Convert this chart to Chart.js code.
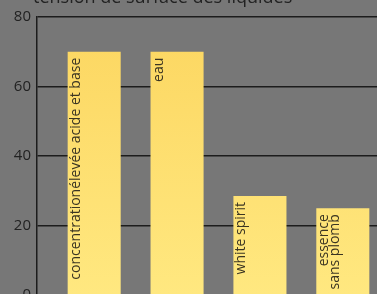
<!DOCTYPE html>
<html>
<head>
<meta charset="utf-8">
<script src="https://cdn.jsdelivr.net/npm/chart.js@4/dist/chart.umd.min.js"></script>
<style>
  html, body { margin: 0; padding: 0; background: #777777; overflow: hidden; }
  #wrap { position: absolute; left: 0; top: -20px; width: 400px; height: 330px; }
</style>
</head>
<body>
<div id="wrap"><canvas id="chart"></canvas></div>
<script>
// surface tension of liquids (mN/m)
const categories = [
    ['concentrationélevée acide et base'],
    ['eau'],
    ['white spirit'],
    ['essence', 'sans plomb'],
];
const values = [70, 70, 28.5, 25];
const yTicks = [0, 20, 40, 60, 80];
const title = 'tension de surface des liquides';

const textColor = '#222222';
const gridColor = '#1c1c1c';

// gradient runs over the whole plot height, so short bars look lighter on top
let barGradient = (context) => {
    const chart = context.chart;
    const area = chart.chartArea;
    if (!area) {
        return '#fde070';
    }
    const g = chart.ctx.createLinearGradient(0, area.top, 0, area.bottom);
    g.addColorStop(0, '#fcd660');
    g.addColorStop(1, '#ffe880');
    return g;
};

const titlePlugin = {
    id: 'topTitle',
    afterDraw(chart) {
        const ctx = chart.ctx;
        ctx.save();
        ctx.font = '18px "Open Sans"';
        ctx.fillStyle = textColor;
        ctx.textAlign = 'left';
        ctx.textBaseline = 'alphabetic';
        ctx.fillText(title, 33, 23);
        ctx.restore();
    }
};

const barLabels = {
    id: 'barLabels',
    afterDatasetsDraw(chart) {
        const ctx = chart.ctx;
        const meta = chart.getDatasetMeta(0);
        ctx.save();
        ctx.font = '14px "Open Sans"';
        ctx.fillStyle = '#3a3422';
        ctx.textAlign = 'right';
        ctx.textBaseline = 'middle';
        meta.data.forEach((bar, i) => {
            const lines = categories[i];
            const left = bar.x - bar.width / 2;
            lines.forEach((line, j) => {
                ctx.save();
                ctx.translate(left + 8 + j * 11, bar.y + 6);
                ctx.rotate(-Math.PI / 2);
                ctx.fillText(line, 0, 0);
                ctx.restore();
            });
        });
        ctx.restore();
    }
};

new Chart(document.getElementById('chart'), {
    type: 'bar',
    data: {
        datasets: [{
            data: values.map((v, i) => ({x: i, y: v})),
            backgroundColor: barGradient,
            borderWidth: 0,
            barPercentage: 0.64,
            categoryPercentage: 1,
        }],
    },
    options: {
        responsive: true,
        maintainAspectRatio: false,
        animation: false,
        layout: {
            padding: {top: 37, bottom: 14, left: 0, right: 0},
        },
        plugins: {
            legend: {display: false},
            tooltip: {enabled: false},
        },
        scales: {
            x: {
                type: 'linear',
                display: false,
                offset: false,
                min: -0.69,
                max: 3.69,
                // one tick per bar so the bar width follows the bar spacing
                afterBuildTicks: (scale) => {
                    scale.ticks = values.map((v, i) => ({value: i}));
                },
            },
            y: {
                min: 0,
                max: 80,
                afterBuildTicks: (scale) => {
                    scale.ticks = yTicks.map(v => ({value: v}));
                },
                afterFit: (scale) => {
                    scale.width = 37;
                },
                border: {
                    display: true,
                    color: gridColor,
                    width: 1.5,
                },
                grid: {
                    color: gridColor,
                    lineWidth: 1.5,
                    drawTicks: false,
                },
                ticks: {
                    color: textColor,
                    padding: 6,
                    font: {family: '"Open Sans"', size: 15},
                },
            },
        },
    },
    plugins: [titlePlugin, barLabels],
});
</script>
</body>
</html>
